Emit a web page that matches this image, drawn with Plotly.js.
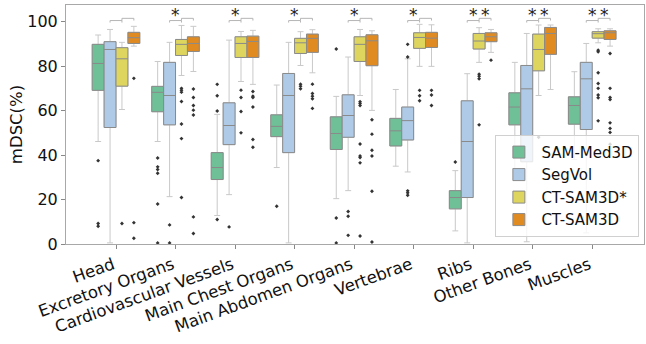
<!DOCTYPE html>
<html><head><meta charset="utf-8">
<script src="https://cdn.plot.ly/plotly-3.0.1.min.js"></script>
<style>html,body{margin:0;padding:0;background:#fff}#chart{width:646px;height:344px}</style>
</head><body><div id="chart"></div>
<script>
const categories = ["Head","Excretory Organs","Cardiovascular Vessels","Main Chest Organs","Main Abdomen Organs","Vertebrae","Ribs","Other Bones","Muscles"];
const seriesNames = ["SAM-Med3D","SegVol","CT-SAM3D*","CT-SAM3D"];

// SAM-Med3D
const samLower  = [46.1, 46.1, 12.8, 34.4, 20.4, 35.0, 5.9, 34.0, 38.0];
const samQ1     = [69.1, 59.5, 29.0, 48.3, 42.5, 44.1, 15.8, 53.6, 53.9];
const samMedian = [81.2, 68.2, 34.4, 52.9, 49.7, 50.9, 20.9, 61.6, 62.3];
const samQ3     = [89.8, 70.9, 41.1, 58.1, 57.2, 56.5, 24.0, 68.0, 66.2];
const samUpper  = [94.0, 82.1, 58.3, 71.5, 66.4, 69.5, 33.0, 81.7, 77.5];
const samOut = [[37.5, 9.2, 8.0], [38.7, 34.7, 33.5, 31.8, 18.0, 0.5], [71.8, 66.7, 59.8, 11.0], [17.0], [87.7, 11.7, 0.5], [], [36.9], [], []];

// SegVol
const segLower  = [0.5, 21.3, 22.2, 0.5, 24.0, 32.4, 0.5, 1.0, 5.0];
const segQ1     = [52.4, 53.6, 44.7, 41.1, 48.0, 46.8, 20.9, 37.0, 51.5];
const segMedian = [87.5, 66.8, 53.3, 66.8, 57.8, 55.5, 46.1, 69.8, 74.3];
const segQ3     = [91.0, 81.7, 63.5, 76.7, 67.1, 61.6, 64.4, 80.3, 81.7];
const segUpper  = [96.5, 90.7, 91.7, 90.7, 84.1, 83.3, 76.6, 94.7, 90.2];
const segOut = [[], [8.6, 0.5], [7.7], [], [14.6, 12.5, 3.9], [89.8, 84.1, 23.9, 23.0, 21.9], [], [], []];

// CT-SAM3D*
const ctsLower  = [60.5, 75.8, 73.1, 80.3, 66.8, 79.9, 81.7, 66.8, 90.5];
const ctsQ1     = [71.0, 84.8, 83.9, 85.7, 82.1, 88.0, 87.7, 77.9, 92.6];
const ctsMedian = [83.3, 89.8, 90.2, 90.5, 89.8, 92.9, 91.3, 87.5, 94.6];
const ctsQ3     = [88.3, 92.0, 93.2, 92.5, 93.2, 95.0, 94.7, 94.4, 95.5];
const ctsUpper  = [90.7, 98.3, 95.6, 95.5, 96.5, 98.8, 97.3, 98.5, 96.8];
const ctsOut = [[9.2], [70.0, 69.2, 68.3, 64.1, 54.0, 47.4, 20.9], [69.2, 65.9, 59.6, 50.0], [71.9, 71.0, 69.8], [64.0, 63.2, 62.3, 45.0, 39.6, 38.9, 36.5, 3.6], [69.1, 66.7, 64.4], [76.4, 75.5, 74.3, 53.6], [48.0], [87.2, 86.5, 77.0, 72.2, 70.0, 67.0, 65.8, 55.4]];

// CT-SAM3D
const ctLower  = [89.0, 77.6, 71.8, 77.0, 60.1, 79.9, 86.2, 69.5, 89.0];
const ctQ1     = [90.2, 86.6, 83.9, 86.2, 80.2, 88.4, 91.0, 85.3, 92.0];
const ctMedian = [92.8, 90.2, 91.1, 92.5, 91.4, 92.6, 93.2, 94.7, 95.0];
const ctQ3     = [95.2, 93.2, 93.5, 94.4, 94.1, 95.2, 95.0, 97.4, 95.9];
const ctUpper  = [97.9, 97.9, 96.1, 96.4, 95.9, 98.6, 96.5, 98.5, 96.8];
const ctOut = [[74.5, 9.6, 2.6], [69.7, 65.9, 62.3, 60.2, 58.0, 12.2, 4.7], [68.6, 66.5, 65.9, 61.6, 47.0, 43.5], [71.9, 67.7, 66.5, 65.3, 61.0], [55.9, 49.4, 42.2, 39.6, 23.7, 0.9], [69.1, 67.0, 62.3], [82.7], [], [85.7, 70.0, 65.9, 65.0, 54.5, 52.0, 50.2, 44.9]];

// significance stars: bracket SegVol–CT-SAM3D*, bracket CT-SAM3D*–CT-SAM3D
const sigA = [false, true, true, true, true, true, true, true, true];
const sigB = [false, false, false, false, false, false, true, true, true];

const series = [
  {name: seriesNames[0], lo: samLower, q1: samQ1, med: samMedian, q3: samQ3, hi: samUpper, out: samOut, color: "#6fbf97"},
  {name: seriesNames[1], lo: segLower, q1: segQ1, med: segMedian, q3: segQ3, hi: segUpper, out: segOut, color: "#aecae6"},
  {name: seriesNames[2], lo: ctsLower, q1: ctsQ1, med: ctsMedian, q3: ctsQ3, hi: ctsUpper, out: ctsOut, color: "#ddd55e"},
  {name: seriesNames[3], lo: ctLower, q1: ctQ1, med: ctMedian, q3: ctQ3, hi: ctUpper, out: ctOut, color: "#e08a22"}
];
const offsets = [-0.3, -0.1, 0.1, 0.3];
const idx = categories.map((c, i) => i);

const traces = [];
// whiskers (light grey)
series.forEach((s, k) => {
  traces.push({
    type: "box", x: idx.map(i => i + offsets[k]), q1: s.q1, median: s.med, q3: s.q3,
    lowerfence: s.lo, upperfence: s.hi, width: 0.2, whiskerwidth: 0.5,
    line: {color: "#c9c9c9", width: 1}, fillcolor: "rgba(0,0,0,0)",
    boxpoints: false, showlegend: false, hoverinfo: "skip"
  });
});
// boxes
series.forEach((s, k) => {
  traces.push({
    type: "box", name: s.name, x: idx.map(i => i + offsets[k]), q1: s.q1, median: s.med, q3: s.q3,
    lowerfence: s.q1, upperfence: s.q3, width: 0.2, whiskerwidth: 0,
    line: {color: "#8a8a8a", width: 1}, fillcolor: s.color, boxpoints: false
  });
});
// outliers
series.forEach((s, k) => {
  const xs = [], ys = [];
  s.out.forEach((arr, i) => arr.forEach(v => { xs.push(i + offsets[k]); ys.push(v); }));
  traces.push({
    type: "scatter", mode: "markers", x: xs, y: ys, showlegend: false, hoverinfo: "skip",
    marker: {symbol: "diamond", size: 3, color: "#333"}
  });
});

const shapes = [];
const annotations = [];
const bA = {y: 100.5, leg: 99.6}, bB = {y: 101.5, leg: 100.5};
idx.forEach(i => {
  const x1 = i + offsets[1], x2 = i + offsets[2], x3 = i + offsets[3];
  shapes.push({type: "path", xref: "x", yref: "y",
    path: `M ${x1},${bA.leg} L ${x1},${bA.y} L ${x2},${bA.y} L ${x2},${bA.leg}`,
    line: {color: "#b5b5b5", width: 1}});
  shapes.push({type: "path", xref: "x", yref: "y",
    path: `M ${x2},${bB.leg} L ${x2},${bB.y} L ${x3},${bB.y} L ${x3},${bB.leg}`,
    line: {color: "#b5b5b5", width: 1}});
  if (sigA[i]) annotations.push({x: (x1 + x2) / 2, y: 103.2, xref: "x", yref: "y", text: "*", showarrow: false,
    font: {size: 17, color: "#222"}, yanchor: "middle"});
  if (sigB[i]) annotations.push({x: (x2 + x3) / 2, y: 103.2, xref: "x", yref: "y", text: "*", showarrow: false,
    font: {size: 17, color: "#222"}, yanchor: "middle"});
});

const layout = {
  width: 646, height: 344,
  margin: {l: 66, r: 2, t: 5, b: 100.3},
  paper_bgcolor: "#fff", plot_bgcolor: "#fff",
  font: {family: "DejaVu Sans", size: 16, color: "#111"},
  showlegend: true,
  legend: {x: 0.992, y: 0.03, xanchor: "right", yanchor: "bottom",
    bgcolor: "rgba(255,255,255,0.8)", bordercolor: "#d0d0d0", borderwidth: 1,
    font: {size: 15, color: "#111"}, tracegroupgap: 0, itemwidth: 35},
  xaxis: {range: [-0.84, 8.87], tickmode: "array", tickvals: idx, ticktext: categories,
    tickangle: -20, ticks: "outside", ticklen: 4, tickcolor: "#888", showgrid: false, zeroline: false,
    showline: true, mirror: true, linecolor: "#a8a8a8", linewidth: 1, tickfont: {size: 16.5},
    ticklabelshift: -3},
  yaxis: {range: [0, 107.5], tickvals: [0, 20, 40, 60, 80, 100], ticks: "outside", ticklen: 4, tickcolor: "#888",
    showgrid: false, zeroline: false, showline: true, mirror: true, linecolor: "#a8a8a8", linewidth: 1,
    title: {text: "mDSC(%)", font: {size: 16.5}, standoff: 0}, tickfont: {size: 16}},
  shapes: shapes, annotations: annotations
};

Plotly.newPlot("chart", traces, layout, {displayModeBar: false, staticPlot: true});
</script>
</body></html>
